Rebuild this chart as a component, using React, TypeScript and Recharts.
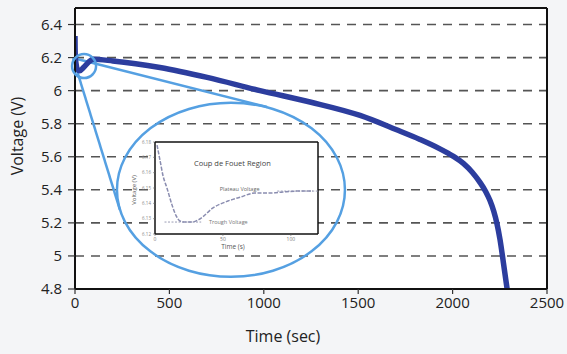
import React from 'react';
import {
  LineChart,
  Line,
  XAxis,
  YAxis,
  CartesianGrid,
  ReferenceLine,
  ReferenceDot,
  Label,
} from 'recharts';

// Discharge curve: time (s) vs. battery voltage (V)
const timeSec = [0, 0.5, 2, 6, 12, 25, 45, 70, 95, 200, 450, 700, 980, 1250, 1510, 1700, 1827, 1933, 2002, 2057, 2105, 2145, 2175, 2198, 2218, 2234, 2251, 2269, 2290];
const voltage = [6.33, 6.26, 6.2, 6.16, 6.13, 6.12, 6.14, 6.17, 6.19, 6.18, 6.14, 6.08, 6.0, 5.93, 5.85, 5.765, 5.705, 5.648, 5.604, 5.56, 5.505, 5.445, 5.39, 5.335, 5.27, 5.2, 5.1, 4.96, 4.79];

const xTicks = [0, 500, 1000, 1500, 2000, 2500];
const yTicks = [4.8, 5, 5.2, 5.4, 5.6, 5.8, 6, 6.2, 6.4];

// Close-up of the first two minutes (coup de fouet)
const zoomTimeSec = [1.5, 3.7, 5.9, 8.8, 12.5, 15.5, 18.4, 22, 27.2, 33, 42.7, 53.7, 62.6, 73.6, 84.6, 94.2, 105, 116.3];
const zoomVoltage = [6.178, 6.168, 6.158, 6.15, 6.139, 6.132, 6.1285, 6.1278, 6.1278, 6.1298, 6.137, 6.1415, 6.144, 6.1467, 6.1467, 6.1474, 6.148, 6.148];
const zoomXTicks = [0, 50, 100];
const zoomYTicks = [6.12, 6.13, 6.14, 6.15, 6.16, 6.17, 6.18];
const troughVoltage = 6.1278;
const plateauVoltage = 6.148;

// Magnifier: focus circle on the dip, lens ellipse and the two connecting rays
const focusPoint = { t: 48, v: 6.149 };
const rayApex = { t: -10, v: 6.197 };
const lensCenter = { t: 826, v: 5.4 };
const rayEndUpper = { t: 1017, v: 5.901 };
const rayEndLower = { t: 238, v: 5.278 };

const mainData = timeSec.map((t, i) => ({ t, v: voltage[i] }));
const zoomData = zoomTimeSec.map((t, i) => ({ t, v: zoomVoltage[i] }));

const DARK_BLUE = '#2c3d9e';
const LIGHT_BLUE = '#55a0e2';
const FONT = '"Open Sans", sans-serif';

export default function App() {
  return (
    <div
      style={{
        position: 'absolute',
        left: 0,
        top: 0,
        width: 567,
        height: 354,
        background: '#f4f5f7',
        fontFamily: FONT,
      }}
    >
      <LineChart
        width={567}
        height={354}
        data={mainData}
        margin={{ top: 8, right: 20, bottom: 0, left: 0 }}
        style={{ position: 'absolute', left: 0, top: 0 }}
      >
        <CartesianGrid
          vertical={false}
          horizontalValues={yTicks}
          stroke="#555"
          strokeWidth={1.6}
          strokeDasharray="9 7"
          fill="#ffffff"
        />
        <XAxis
          dataKey="t"
          type="number"
          domain={[0, 2500]}
          ticks={xTicks}
          allowDataOverflow
          height={65}
          tickSize={5}
          tickMargin={3}
          axisLine={{ stroke: '#111', strokeWidth: 2 }}
          tickLine={{ stroke: '#333', strokeWidth: 1.2 }}
          tick={{ fill: '#222', fontSize: 15, fontFamily: FONT }}
        >
          <Label
            content={() => (
              <text x={283} y={342} textAnchor="middle" fill="#222" fontSize={16} fontFamily={FONT}>
                Time (sec)
              </text>
            )}
          />
        </XAxis>
        <YAxis
          type="number"
          domain={[4.8, 6.5]}
          ticks={yTicks}
          allowDataOverflow
          width={75}
          tickSize={7}
          tickMargin={6}
          axisLine={{ stroke: '#111', strokeWidth: 2 }}
          tickLine={{ stroke: '#333', strokeWidth: 1.2 }}
          tick={{ fill: '#222', fontSize: 15, fontFamily: FONT }}
        >
          <Label
            content={() => (
              <text
                x={17}
                y={136}
                transform="rotate(-90 17 136)"
                textAnchor="middle"
                dominantBaseline="central"
                fill="#222"
                fontSize={16}
                fontFamily={FONT}
              >
                Voltage (V)
              </text>
            )}
          />
        </YAxis>
        <ReferenceLine y={6.5} stroke="#111" strokeWidth={2} />
        <ReferenceLine x={2500} stroke="#111" strokeWidth={2} />
        <ReferenceDot
          x={lensCenter.t}
          y={lensCenter.v}
          r={1}
          shape={(p: any) => (
            <ellipse cx={p.cx} cy={p.cy} rx={114} ry={87} fill="none" stroke={LIGHT_BLUE} strokeWidth={2.5} />
          )}
        />
        <ReferenceLine
          segment={[
            { x: rayApex.t, y: rayApex.v },
            { x: rayEndUpper.t, y: rayEndUpper.v },
          ]}
          ifOverflow="visible"
          stroke={LIGHT_BLUE}
          strokeWidth={2.5}
        />
        <ReferenceLine
          segment={[
            { x: rayApex.t, y: rayApex.v },
            { x: rayEndLower.t, y: rayEndLower.v },
          ]}
          ifOverflow="visible"
          stroke={LIGHT_BLUE}
          strokeWidth={2.5}
        />
        <Line
          dataKey="v"
          type="monotone"
          stroke={DARK_BLUE}
          strokeWidth={5.5}
          dot={false}
          isAnimationActive={false}
        />
        <ReferenceDot
          x={focusPoint.t}
          y={focusPoint.v}
          r={12}
          fill="none"
          stroke={LIGHT_BLUE}
          strokeWidth={2.5}
        />
      </LineChart>

      <LineChart
        width={200}
        height={120}
        data={zoomData}
        margin={{ top: 6, right: 7, bottom: 0, left: 0 }}
        style={{ position: 'absolute', left: 125, top: 136 }}
      >
        <CartesianGrid horizontal={false} vertical={false} fill="#ffffff" />
        <XAxis
          dataKey="t"
          type="number"
          domain={[0, 120]}
          ticks={zoomXTicks}
          allowDataOverflow
          height={22}
          tickSize={2}
          tickMargin={1}
          axisLine={{ stroke: '#111', strokeWidth: 1.5 }}
          tickLine={{ stroke: '#666', strokeWidth: 0.6 }}
          tick={{ fill: '#777', fontSize: 5, fontFamily: FONT }}
        >
          <Label
            content={() => (
              <text x={108} y={113} textAnchor="middle" fill="#555" fontSize={6.5} fontFamily={FONT}>
                Time (s)
              </text>
            )}
          />
        </XAxis>
        <YAxis
          type="number"
          domain={[6.12, 6.18]}
          ticks={zoomYTicks}
          allowDataOverflow
          width={30}
          tickSize={2}
          tickMargin={2}
          axisLine={{ stroke: '#111', strokeWidth: 1.5 }}
          tickLine={{ stroke: '#666', strokeWidth: 0.6 }}
          tick={{ fill: '#888', fontSize: 4.5, fontFamily: FONT }}
          tickFormatter={(v: number) => v.toFixed(2)}
        >
          <Label
            content={() => (
              <text
                x={9}
                y={54}
                transform="rotate(-90 9 54)"
                textAnchor="middle"
                dominantBaseline="central"
                fill="#555"
                fontSize={6}
                fontFamily={FONT}
              >
                Voltage (V)
              </text>
            )}
          />
        </YAxis>
        <ReferenceLine y={6.18} stroke="#111" strokeWidth={1.5} />
        <ReferenceLine x={120} stroke="#111" strokeWidth={1.5} />
        <ReferenceLine
          segment={[
            { x: 7, y: troughVoltage },
            { x: 34, y: troughVoltage },
          ]}
          stroke="#9a9cb5"
          strokeWidth={1}
          strokeDasharray="2 1.5"
        />
        <ReferenceLine
          segment={[
            { x: 90, y: plateauVoltage },
            { x: 120, y: plateauVoltage },
          ]}
          stroke="#9a9cb5"
          strokeWidth={1}
          strokeDasharray="2 1.5"
        />
        <ReferenceDot
          x={57}
          y={6.166}
          r={0}
          label={{ value: 'Coup de Fouet Region', position: 'center', fontSize: 7.5, fill: '#444', fontFamily: FONT }}
        />
        <ReferenceDot
          x={36}
          y={troughVoltage}
          r={0}
          label={{ value: 'Trough Voltage', position: 'right', fontSize: 5.5, fill: '#777', fontFamily: FONT }}
        />
        <ReferenceDot
          x={44}
          y={plateauVoltage + 0.0012}
          r={0}
          label={{ value: 'Plateau Voltage', position: 'right', fontSize: 5.5, fill: '#666', fontFamily: FONT }}
        />
        <Line
          dataKey="v"
          type="monotone"
          stroke="#8a8db0"
          strokeWidth={1.5}
          strokeDasharray="4 1.5"
          dot={false}
          isAnimationActive={false}
        />
      </LineChart>
    </div>
  );
}
